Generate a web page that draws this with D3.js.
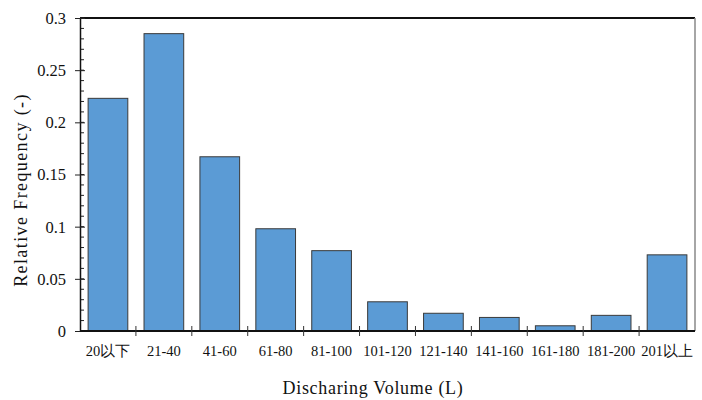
<!DOCTYPE html>
<html>
<head>
<meta charset="utf-8">
<script src="https://cdn.jsdelivr.net/npm/d3@7"></script>
<style>
	body { margin: 0; background: #fff; }
	svg text { font-family: "Liberation Serif", "Times New Roman", "DejaVu Serif", serif; fill: #111; }
</style>
</head>
<body>
<script>
// categories and relative frequency
var categories = ["20以下", "21-40", "41-60", "61-80", "81-100", "101-120", "121-140", "141-160", "161-180", "181-200", "201以上"];
var frequency = [0.223, 0.285, 0.167, 0.098, 0.077, 0.028, 0.017, 0.013, 0.005, 0.015, 0.073];
var yTicks = [0, 0.05, 0.1, 0.15, 0.2, 0.25, 0.3];
var yTickLabels = ["0", "0.05", "0.1", "0.15", "0.2", "0.25", "0.3"];

function drawChart() {
	var margin = { top: 18, right: 7, bottom: 69, left: 80 },
		width = 702 - margin.left - margin.right,
		height = 400 - margin.top - margin.bottom;

	var svg = d3.select("body").append("svg")
		.attr("width", 702)
		.attr("height", 400),
		g = svg.append("g")
		.attr("transform", "translate(" + margin.left + "," + margin.top + ")");

	var x = d3.scaleBand()
		.domain(categories)
		.range([0, width])
		.paddingInner(0.29)
		.paddingOuter(0.145);

	var y = d3.scaleLinear()
		.domain([0, 0.3])
		.range([height, 0]);

	// bars
	g.selectAll(".bar")
		.data(frequency)
		.enter().append("rect")
		.attr("class", "bar")
		.attr("x", function(d, i) { return x(categories[i]); })
		.attr("y", function(d) { return y(d); })
		.attr("width", x.bandwidth())
		.attr("height", function(d) { return height - y(d); })
		.attr("fill", "#5B9BD5")
		.attr("stroke", "#3a3a3a")
		.attr("stroke-width", 1);

	// frame: top black, right grey
	g.append("line")
		.attr("x1", 0).attr("x2", width)
		.attr("y1", 0).attr("y2", 0)
		.attr("stroke", "#111").attr("stroke-width", 2);
	g.append("line")
		.attr("x1", width).attr("x2", width)
		.attr("y1", 0).attr("y2", height)
		.attr("stroke", "#888").attr("stroke-width", 1.5);

	// minor y ticks every 0.01, inward
	var minor = d3.range(0, 31).map(function(i) { return i / 100; });
	g.selectAll(".minor")
		.data(minor)
		.enter().append("line")
		.attr("x1", 0).attr("x2", 4)
		.attr("y1", function(d) { return y(d); })
		.attr("y2", function(d) { return y(d); })
		.attr("stroke", "#222").attr("stroke-width", 1);

	// y axis with major ticks crossing the line
	var yAxis = g.append("g")
		.call(d3.axisLeft(y)
			.tickValues(yTicks)
			.tickFormat(function(d, i) { return yTickLabels[i]; })
			.tickSizeInner(5)
			.tickSizeOuter(0)
			.tickPadding(9));
	yAxis.attr("font-family", null);
	yAxis.select(".domain").attr("stroke", "#111").attr("stroke-width", 1.5);
	yAxis.selectAll(".tick line").attr("x2", -5).attr("x1", 5).attr("stroke", "#222");
	yAxis.selectAll("text")
		.style("font-size", "16.5px")
		.attr("dy", "0.33em");

	// x axis: ticks between categories
	var step = x.step();
	var bounds = d3.range(0, categories.length + 1).map(function(i) {
		return x(categories[0]) - x.paddingOuter() * step + i * step;
	});
	g.append("line")
		.attr("x1", 0).attr("x2", width)
		.attr("y1", height).attr("y2", height)
		.attr("stroke", "#111").attr("stroke-width", 2);
	g.selectAll(".xtick")
		.data(bounds.slice(1, categories.length))
		.enter().append("line")
		.attr("x1", function(d) { return d; })
		.attr("x2", function(d) { return d; })
		.attr("y1", height - 5)
		.attr("y2", height + 5)
		.attr("stroke", "#333").attr("stroke-width", 1);

	g.selectAll(".xlabel")
		.data(categories)
		.enter().append("text")
		.attr("x", function(d) { return x(d) + x.bandwidth() / 2; })
		.attr("y", height + 25)
		.style("text-anchor", "middle")
		.style("font-size", "14.5px")
		.text(function(d) { return d; });

	// axis titles
	svg.append("text")
		.attr("x", 373)
		.attr("y", 394)
		.style("text-anchor", "middle")
		.style("font-size", "18px")
		.style("letter-spacing", "0.7px")
		.text("Discharing Volume (L)");

	svg.append("text")
		.attr("transform", "translate(27,190) rotate(-90)")
		.style("text-anchor", "middle")
		.style("font-size", "18px")
		.style("letter-spacing", "1.4px")
		.text("Relative Frequency (-)");
}

drawChart();
</script>
</body>
</html>
